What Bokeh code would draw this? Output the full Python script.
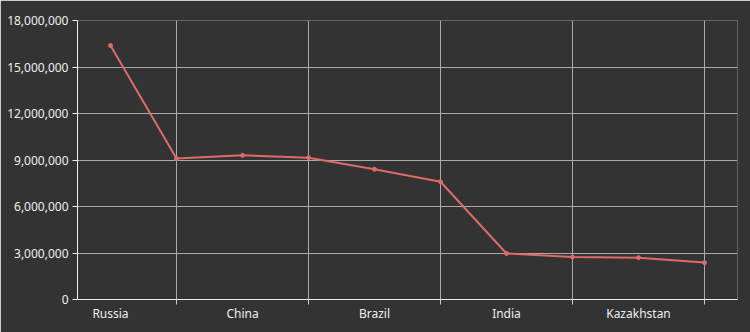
from bokeh.plotting import figure
from bokeh.models import FixedTicker, NumeralTickFormatter, Range1d, ColumnDataSource
from bokeh.embed import file_html
from bokeh.resources import INLINE

countries = ["Russia", "Canada", "China", "United States", "Brazil", "Australia",
             "India", "Argentina", "Kazakhstan", "Algeria"]
area = [16380000, 9090000, 9300000, 9150000, 8400000, 7600000,
        2970000, 2740000, 2700000, 2380000]
y_ticks = [0, 3000000, 6000000, 9000000, 12000000, 15000000, 18000000]

BG = "#333333"
TXT = "#eeeeee"
LINE = "#dd6b66"
FONT = "Noto Sans"

xs = [i + 0.5 for i in range(len(countries))]
src = ColumnDataSource(dict(x=xs, y=area, name=countries))

p = figure(width=750, height=332, frame_width=660, frame_height=279,
           output_backend="svg", toolbar_location=None,
           x_range=Range1d(0, len(countries)), y_range=Range1d(0, 18000000),
           min_border_left=77, min_border_right=13, min_border_top=20, min_border_bottom=33)
p.background_fill_color = BG
p.border_fill_color = BG
p.outline_line_color = None

p.line("x", "y", source=src, line_color=LINE, line_width=2)
p.scatter("x", "y", source=src, size=4, fill_color=LINE, line_color=LINE)

label_pos = xs[0::2]
grid_pos = xs[1::2]
p.xaxis.ticker = FixedTicker(ticks=label_pos, minor_ticks=grid_pos)
p.xaxis.major_label_overrides = {xs[i]: countries[i] for i in range(0, len(countries), 2)}
p.xaxis.major_tick_out = 0
p.xaxis.major_tick_in = 0
p.xaxis.minor_tick_out = 5
p.xaxis.minor_tick_in = 0
p.xaxis.minor_tick_line_color = "#cccccc"
p.xgrid.ticker = FixedTicker(ticks=grid_pos)

p.yaxis.ticker = FixedTicker(ticks=y_ticks)
p.yaxis.formatter = NumeralTickFormatter(format="0,0")
p.yaxis.major_tick_out = 5
p.yaxis.major_tick_in = 0
p.yaxis.minor_tick_line_color = None

for ax in (p.xaxis, p.yaxis):
    ax.axis_line_color = TXT
    ax.major_tick_line_color = TXT
    ax.major_label_text_color = TXT
    ax.major_label_text_font = FONT
    ax.major_label_text_font_size = "12px"
p.xaxis.major_label_standoff = 0
p.yaxis.major_label_standoff = 4

for g in (p.xgrid, p.ygrid):
    g.grid_line_color = "#aaaaaa"
    g.grid_line_width = 1

open("out.html", "w").write(file_html(p, INLINE))
